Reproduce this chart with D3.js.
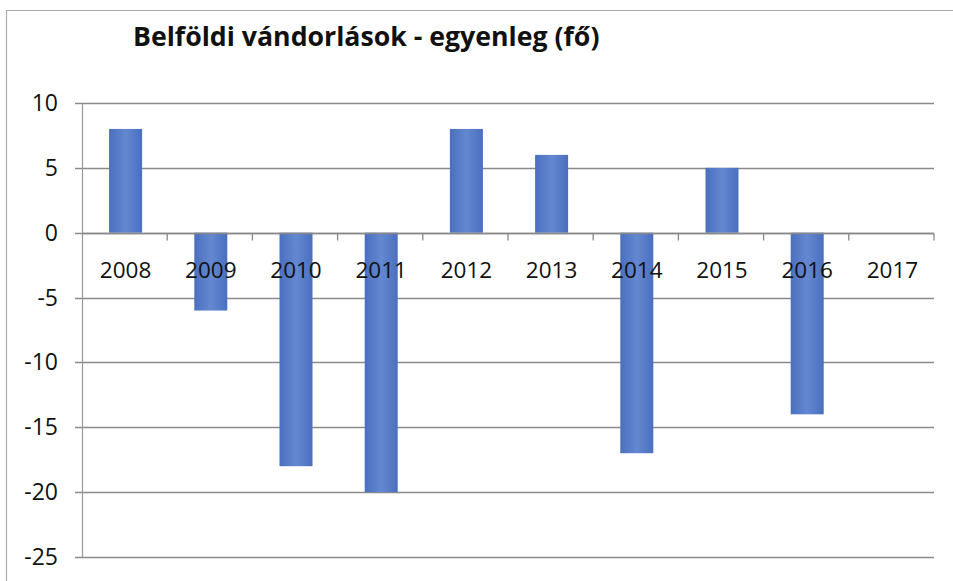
<!DOCTYPE html>
<html><head><meta charset="utf-8">
<script src="https://cdn.jsdelivr.net/npm/d3@7"></script>
<style>body{margin:0;background:#fff;} text{font-family:"Open Sans","Liberation Sans",sans-serif;}</style>
</head><body>
<svg id="c" width="953" height="581"></svg>
<script>
const categories = ["2008","2009","2010","2011","2012","2013","2014","2015","2016","2017"];
const values = [8, -6, -18, -20, 8, 6, -17, 5, -14, 0];
const yTicks = [10, 5, 0, -5, -10, -15, -20, -25];
const title = "Belföldi vándorlások - egyenleg (fő)";

const svg = d3.select("#c");
const L = 82, R = 934, T = 103, B = 557;

// outer border
svg.append("path").attr("d", `M6.5,581 V10.5 H953`).attr("fill","none").attr("stroke","#aaa").attr("stroke-width",1.2);

const defs = svg.append("defs");
const g = defs.append("linearGradient").attr("id","bg").attr("x1","0").attr("x2","1");
g.append("stop").attr("offset","0").attr("stop-color","#4a6fbf");
g.append("stop").attr("offset","0.5").attr("stop-color","#6488d0");
g.append("stop").attr("offset","1").attr("stop-color","#4a6fbf");

const x = d3.scaleBand().domain(categories).range([L, R]);
const y = d3.scaleLinear().domain([-25, 10]).range([B, T]);

// gridlines
svg.append("g").selectAll("line").data(yTicks).join("line")
  .attr("x1", L - 7).attr("x2", R).attr("y1", d => Math.round(y(d)) + 0.5).attr("y2", d => Math.round(y(d)) + 0.5)
  .attr("stroke", "#8a8a8a").attr("stroke-width", 1.3);

// y axis line
svg.append("line").attr("x1", L + 0.5).attr("x2", L + 0.5).attr("y1", T).attr("y2", B)
  .attr("stroke", "#999").attr("stroke-width", 1.2);

// y tick labels
svg.append("g").selectAll("text").data(yTicks).join("text")
  .attr("x", 58).attr("y", d => y(d)).attr("dy", "0.35em").attr("text-anchor", "end")
  .attr("font-size", 23).attr("fill", "#111").text(d => d);

// bars
const bw = 33;
svg.append("g").selectAll("rect").data(categories.map((c, i) => ({c, v: values[i]}))).join("rect")
  .attr("x", d => x(d.c) + x.bandwidth() / 2 - bw / 2 + 1)
  .attr("width", bw)
  .attr("y", d => Math.min(y(d.v), y(0)))
  .attr("height", d => Math.abs(y(d.v) - y(0)))
  .attr("fill", "url(#bg)");

// zero axis line and category ticks
const y0 = Math.round(y(0)) + 0.5;
svg.append("line").attr("x1", L).attr("x2", R).attr("y1", y0).attr("y2", y0).attr("stroke", "#888").attr("stroke-width", 1.3);
svg.append("g").selectAll("line").data(categories.slice(1).concat(["end"])).join("line")
  .attr("x1", (d, i) => L + x.bandwidth() * (i + 1)).attr("x2", (d, i) => L + x.bandwidth() * (i + 1))
  .attr("y1", y0).attr("y2", y0 + 7).attr("stroke", "#888").attr("stroke-width", 1.3);

// category labels
svg.append("g").selectAll("text").data(categories).join("text")
  .attr("x", d => x(d) + x.bandwidth() / 2 + 1).attr("y", y0 + 44)
  .attr("text-anchor", "middle").attr("font-size", 22.5).attr("fill", "#111").text(d => d);

// title
svg.append("text").attr("x", 133).attr("y", 46).attr("font-size", 26.7).attr("font-weight", "bold")
  .attr("fill", "#111").text(title);
</script>
</body></html>
